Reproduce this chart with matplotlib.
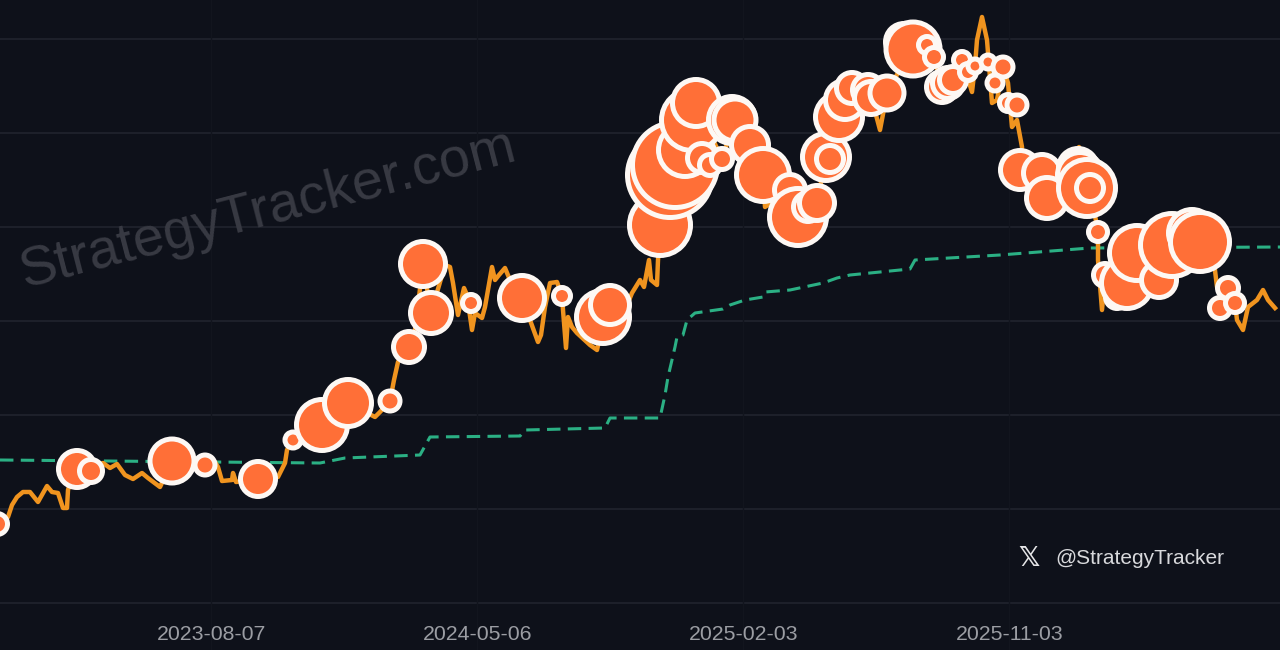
# -*- coding: utf-8 -*-
"""
StrategyTracker style chart: price line, average cost line and purchase bubbles.
The y axis has no labels in the source, so values are in arbitrary chart units.
"""

import matplotlib
matplotlib.use('Agg')
import matplotlib.pyplot as plt
import numpy as np


# X is a sample index along the time axis, Y is height above the lowest gridline
tick_pos = [211, 477, 743, 1009]
tick_labels = ['2023-08-07', '2024-05-06', '2025-02-03', '2025-11-03']
grid_levels = [0, 94, 188, 282, 376, 470, 564]

price_x = [0, 8, 12, 17, 23, 30, 38, 47, 52, 58, 63, 67, 68, 72, 85, 103, 110, 117, 125, 133,
           142, 148, 160, 172, 205, 215, 218, 222, 232, 233, 236, 258, 278, 285, 287, 293,
           322, 348, 375, 380, 390, 394, 398, 409, 415, 423, 431, 445, 450, 453, 458, 464,
           467, 472, 475, 482, 485, 492, 495, 499, 505, 510, 522, 538, 541, 545, 550, 557,
           562, 563, 566, 568, 572, 577, 590, 597, 604, 625, 632, 640, 644, 649, 651, 657,
           658, 661, 672, 696, 722, 735, 763, 765, 790, 798, 817, 826, 839, 852, 872, 880,
           887, 905, 913, 934, 942, 962, 972, 975, 977, 982, 987, 992, 997, 1003, 1008, 1012,
           1017, 1022, 1022, 1047, 1079, 1090, 1098, 1098, 1102, 1105, 1127, 1172, 1200, 1214,
           1217, 1228, 1235, 1237, 1243, 1248, 1257, 1263, 1268, 1275]
price_y = [78, 86, 98, 106, 111, 111, 101, 117, 111, 110, 95, 95, 113, 125, 133, 140, 135, 139,
           128, 124, 130, 125, 116, 141, 138, 141, 136, 122, 123, 130, 121, 124, 126, 140, 153,
           163, 178, 200, 186, 191, 202, 223, 241, 256, 273, 339, 290, 338, 336, 320, 288, 315,
           308, 273, 290, 285, 296, 336, 323, 328, 335, 323, 305, 261, 268, 296, 320, 321, 307,
           293, 255, 286, 276, 270, 258, 253, 285, 293, 310, 323, 316, 343, 323, 318, 343, 378,
           428, 500, 444, 483, 428, 396, 413, 386, 400, 446, 486, 515, 503, 473, 510, 543, 554,
           546, 516, 543, 511, 537, 563, 586, 563, 500, 503, 536, 520, 476, 483, 456, 433, 405,
           456, 415, 371, 343, 293, 328, 320, 358, 361, 341, 316, 315, 300, 283, 273, 296, 303,
           313, 303, 295]

cost_x = [0, 320, 345, 420, 430, 520, 525, 605, 610, 660, 665, 668, 675, 677, 683, 687, 695,
          723, 730, 745, 763, 765, 790, 823, 837, 850, 910, 915, 1000, 1090, 1280]
cost_y = [143, 140, 145, 148, 166, 167, 173, 175, 185, 185, 208, 226, 256, 266, 268, 283, 290,
          294, 298, 303, 306, 311, 313, 320, 325, 328, 334, 343, 348, 355, 356]

buy_x = [-3, 77, 91, 172, 205, 258, 293, 322, 348, 390, 409, 423, 431, 471, 522, 562, 603, 610,
         660, 670, 675, 685, 692, 696, 702, 710, 722, 732, 735, 750, 763, 790, 798, 808, 817,
         826, 830, 839, 845, 852, 868, 871, 887, 904, 913, 927, 934, 942, 948, 953, 962, 968,
         975, 988, 1003, 995, 1008, 1017, 1020, 1042, 1047, 1078, 1080, 1087, 1090, 1098, 1105,
         1117, 1127, 1137, 1159, 1172, 1192, 1200, 1228, 1220, 1235]
buy_y = [79, 134, 132, 142, 138, 124, 163, 178, 200, 202, 256, 339, 290, 300, 305, 307, 286,
         298, 378, 428, 438, 453, 483, 500, 445, 438, 444, 483, 483, 458, 428, 413, 386, 396,
         400, 446, 444, 486, 503, 515, 513, 505, 510, 561, 554, 558, 546, 516, 520, 523, 543,
         531, 537, 541, 536, 520, 500, 498, 433, 430, 405, 435, 428, 415, 415, 371, 328, 306,
         320, 350, 323, 358, 370, 361, 315, 295, 300]
buy_size = [13, 21, 14, 24.5, 12.5, 20, 10.5, 28, 26, 12.5, 18, 25, 23, 11, 25, 11, 29, 22, 33,
            45, 45, 29, 33, 26, 17, 13, 13, 26, 23.5, 21, 29, 18, 31, 17, 20, 26, 16, 26, 22,
            18, 18, 19, 19.5, 21, 29.5, 11, 12, 18, 18, 16, 11, 11, 9.5, 9.5, 12.5, 10.5, 11,
            12.5, 22, 21, 23, 22, 25, 31, 16, 12, 14, 14, 28, 30, 20, 34, 26, 32, 13, 13, 12]


plt.rcParams['font.family'] = ['Liberation Sans', 'DejaVu Sans']

fig = plt.figure(figsize=(12.8, 6.5), dpi=100, facecolor='#0e111a')
ax = fig.add_axes([0, 0, 1, 1], facecolor='#0e111a')
ax.set_xlim(0, 1280)
ax.set_ylim(-47, 603)

for level in grid_levels:
    ax.axhline(level, color='#22252f', lw=1.1, zorder=1)
for pos in tick_pos:
    ax.axvline(pos, color='#12151e', lw=1, zorder=1)

ax.text(268, 393, 'StrategyTracker.com', color='#383a43', fontsize=40, rotation=14.5,
        ha='center', va='center', rotation_mode='anchor', zorder=2)

ax.plot(cost_x, cost_y, color='#2bb084', lw=2.2, dashes=(4.4, 2.4), zorder=3)
ax.plot(price_x, price_y, color='#f0941f', lw=3.2, solid_joinstyle='round', zorder=4)

# outer radius in px -> marker area in pt^2, edge is centred on the path
edge_px = 5.0
diam = (2 * np.array(buy_size) - edge_px) * 0.72
ax.scatter(buy_x, buy_y, s=diam ** 2, color='#ff6f37', edgecolors='#fdf8f4',
           linewidths=edge_px * 0.72, zorder=5)

for pos, label in zip(tick_pos, tick_labels):
    ax.text(pos + 1, -31, label, color='#9b9da3', fontsize=15.3, ha='center', va='center')

ax.text(1029, 44, '\U0001D54F', color='#e6e6e8', fontsize=19, ha='center', va='center',
        family=['DejaVu Sans'], fontweight='bold')
ax.text(1055, 45, '@StrategyTracker', color='#d8d9dc', fontsize=15, ha='left', va='center',
        zorder=6)

ax.axis('off')
fig.savefig('out.png', dpi=100, facecolor=fig.get_facecolor())
